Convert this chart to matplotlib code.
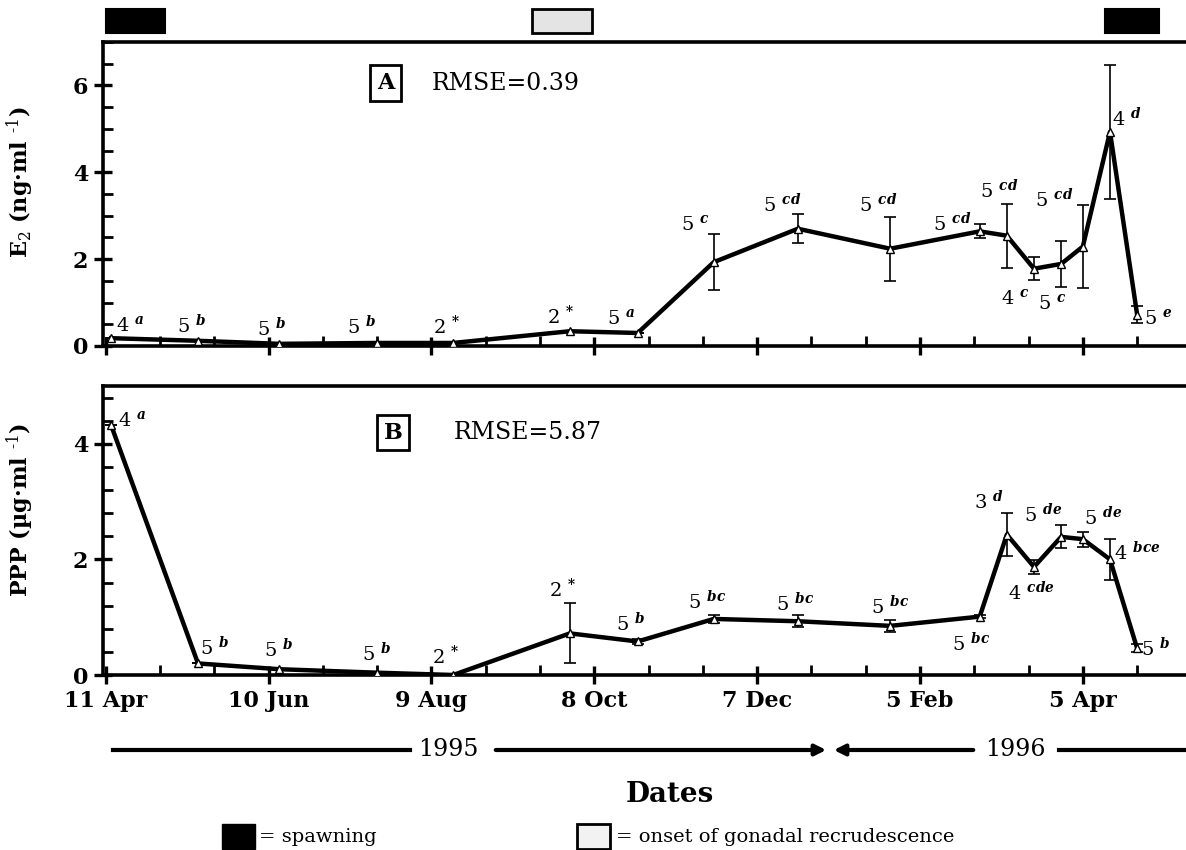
"""
Seasonal E2 and PPP levels, 1995-1996 (two stacked panels)
"""

import numpy as np
import pandas as pd
import matplotlib
matplotlib.use('Agg')
import matplotlib.pyplot as plt
import matplotlib.dates as mdates
from matplotlib.patches import Rectangle, FancyArrowPatch
from matplotlib.transforms import blended_transform_factory

plt.rcParams['font.family'] = 'DejaVu Serif'
plt.rcParams['mathtext.fontset'] = 'dejavuserif'

# Sampling dates (same for both panels)
SAMPLE_DATES = ['1995-04-13', '1995-05-15', '1995-06-14', '1995-07-20', '1995-08-17',
                '1995-09-29', '1995-10-24', '1995-11-21', '1995-12-22', '1996-01-25',
                '1996-02-27', '1996-03-08', '1996-03-18', '1996-03-28', '1996-04-05',
                '1996-04-15', '1996-04-25']

# Panel A: E2 (ng/ml)
E2_MEAN = [0.18, 0.12, 0.05, 0.07, 0.07, 0.34, 0.30, 1.93, 2.70, 2.24, 2.64, 2.54,
           1.78, 1.89, 2.29, 4.93, 0.72]
E2_SEM = [0.0, 0.0, 0.0, 0.0, 0.0, 0.0, 0.0, 0.64, 0.33, 0.74, 0.16, 0.74,
          0.27, 0.53, 0.95, 1.55, 0.20]
E2_N = ['4', '5', '5', '5', '2', '2', '5', '5', '5', '5', '5', '5', '4', '5', '5', '4', '5']
E2_GROUP = ['a', 'b', 'b', 'b', '*', '*', 'a', 'c', 'cd', 'cd', 'cd', 'cd', 'c', 'c',
            'cd', 'd', 'e']

# Panel B: PPP (ug/ml)
PPP_MEAN = [4.32, 0.20, 0.10, 0.04, 0.00, 0.72, 0.58, 0.97, 0.93, 0.85, 1.01, 2.43,
            1.87, 2.39, 2.35, 2.00, 0.46]
PPP_SEM = [0.0, 0.0, 0.0, 0.0, 0.0, 0.52, 0.05, 0.07, 0.10, 0.10, 0.02, 0.37,
           0.12, 0.20, 0.13, 0.35, 0.07]
PPP_N = ['4', '5', '5', '5', '2', '2', '5', '5', '5', '5', '5', '3', '4', '5', '5', '4', '5']
PPP_GROUP = ['a', 'b', 'b', 'b', '*', '*', 'b', 'bc', 'bc', 'bc', 'bc', 'd', 'cde',
             'de', 'de', 'bce', 'b']

RMSE_A = '0.39'
RMSE_B = '5.87'

TICK_DATES = ['1995-04-11', '1995-06-10', '1995-08-09', '1995-10-08', '1995-12-07',
              '1996-02-05', '1996-04-05']
TICK_LABELS = ['11 Apr', '10 Jun', '9 Aug', '8 Oct', '7 Dec', '5 Feb', '5 Apr']

# Reproductive events shown as bars above panel A
SPAWNING = [('1995-04-11', '1995-05-03'), ('1996-04-13', '1996-05-03')]
RECRUDESCENCE = [('1995-09-15', '1995-10-07')]

# label offsets (pixels, dx right / dy up) from each point
E2_OFFSETS = [(19, 13), (-6, 16), (-8, 16), (-15, 17), (-6, 17), (-9, 15), (-16, 15),
              (-18, 38), (-16, 25), (-12, 45), (-28, 8), (-8, 45), (-19, -29),
              (-9, -39), (-29, 47), (17, 14), (21, -3)]
PPP_OFFSETS = [(21, 5), (17, 16), (-1, 20), (0, 19), (-7, 19), (-7, 44), (-7, 18),
               (-7, 18), (-3, 18), (0, 20), (-9, -27), (-18, 33), (-3, -25),
               (-18, 23), (20, 22), (27, 7), (19, 0)]

W, H = 1186, 850
PX = 72.0 / 100  # points per pixel at dpi 100


def to_num(dates):
    return mdates.date2num(pd.to_datetime(dates))


def label_text(n, g):
    if g == '*':
        return n + r' $^{\mathbf{*}}$'
    return n + r' $^{\mathbfit{' + g + '}}$'


def draw_panel(ax, x, mean, sem, ns, groups, offsets):
    ax.errorbar(x, mean, yerr=sem, fmt='none', ecolor='black', elinewidth=1.2,
                capsize=4, capthick=1.2, zorder=2)
    ax.plot(x, mean, '-', color='black', linewidth=3.2, zorder=3)
    ax.plot(x, mean, '^', markersize=6, markerfacecolor='white',
            markeredgecolor='black', markeredgewidth=1, zorder=4)
    for xi, yi, n, g, (dx, dy) in zip(x, mean, ns, groups, offsets):
        ax.annotate(label_text(n, g), (xi, yi), xytext=(dx * PX, dy * PX),
                    textcoords='offset points', ha='center', va='center',
                    fontsize=14, zorder=5)


def style_axes(ax, ymax, major, minor, x0, x1, ticks, minor_x):
    ax.set_xlim(x0, x1)
    ax.set_ylim(0, ymax)
    ax.set_xticks(ticks)
    ax.set_xticks(minor_x, minor=True)
    ax.set_yticks(major)
    ax.set_yticks(minor, minor=True)
    ax.spines['right'].set_visible(False)
    for s in ['left', 'bottom', 'top']:
        ax.spines[s].set_linewidth(2.6)
    ax.tick_params(which='major', direction='inout', length=13, width=2.4,
                   labelsize=16, pad=4)
    ax.tick_params(which='minor', direction='in', length=7, width=2.0)
    ax.tick_params(top=False, right=False, which='both')
    for lab in ax.get_yticklabels():
        lab.set_fontweight('bold')


x = to_num(SAMPLE_DATES)
ticks = to_num(TICK_DATES)
x0 = ticks[0] - 1
x1 = ticks[0] + 398
minor_x = np.arange(ticks[0], x1, 20)

fig = plt.figure(figsize=(W / 100, H / 100), dpi=100)

# axes placed in pixel units
axA = fig.add_axes([103 / W, 1 - 346 / H, 1 - 103 / W, (346 - 42) / H])
axB = fig.add_axes([103 / W, 1 - 675 / H, 1 - 103 / W, (675 - 386) / H])

draw_panel(axA, x, E2_MEAN, E2_SEM, E2_N, E2_GROUP, E2_OFFSETS)
draw_panel(axB, x, PPP_MEAN, PPP_SEM, PPP_N, PPP_GROUP, PPP_OFFSETS)

style_axes(axA, 7, [0, 2, 4, 6], np.arange(0, 7.01, 0.5), x0, x1, ticks, minor_x)
style_axes(axB, 5, [0, 2, 4], np.arange(0, 5.01, 0.4), x0, x1, ticks, minor_x)
axA.set_xticklabels([])
axB.set_xticklabels(TICK_LABELS, fontsize=16, fontweight='bold')

# y labels
axA.set_ylabel('E$_2$ (ng\u00b7ml $^{\\text{-1}}$)', fontsize=16, fontweight='bold')
axA.yaxis.set_label_coords(-0.062, 0.54)
axB.set_ylabel('PPP (\u00b5g\u00b7ml $^{\\text{-1}}$)', fontsize=16, fontweight='bold')
axB.yaxis.set_label_coords(-0.062, 0.57)

# panel tags and RMSE
axA.text(0.261, 0.865, 'A', transform=axA.transAxes, fontsize=16, fontweight='bold',
         ha='center', va='center',
         bbox=dict(boxstyle='square,pad=0.3', facecolor='white', edgecolor='black', linewidth=2))
axA.text(0.304, 0.862, 'RMSE=' + RMSE_A, transform=axA.transAxes, fontsize=17,
         ha='left', va='center')
axB.text(0.268, 0.838, 'B', transform=axB.transAxes, fontsize=16, fontweight='bold',
         ha='center', va='center',
         bbox=dict(boxstyle='square,pad=0.3', facecolor='white', edgecolor='black', linewidth=2))
axB.text(0.324, 0.838, 'RMSE=' + RMSE_B, transform=axB.transAxes, fontsize=17,
         ha='left', va='center')

# event bars above panel A
trans = blended_transform_factory(axA.transData, axA.transAxes)
for start, end in SPAWNING:
    s, e = to_num([start, end])
    axA.add_patch(Rectangle((s, 1.03), e - s, 0.08, transform=trans, clip_on=False,
                            facecolor='black', edgecolor='black', linewidth=1.5))
for start, end in RECRUDESCENCE:
    s, e = to_num([start, end])
    axA.add_patch(Rectangle((s, 1.03), e - s, 0.08, transform=trans, clip_on=False,
                            facecolor='#e4e4e4', edgecolor='black', linewidth=2))

# year arrows
yy = 1 - 750 / H


def hline(xa, xb):
    fig.add_artist(plt.Line2D([xa / W, xb / W], [yy, yy], color='black', linewidth=3))


def harrow(xa, xb):
    fig.add_artist(FancyArrowPatch(
        (xa / W, yy), (xb / W, yy), transform=fig.transFigure, arrowstyle='-|>',
        mutation_scale=16, color='black', linewidth=3))


hline(113, 410)
harrow(493, 829)
harrow(976, 831)
hline(1059, 1184)
fig.text(448 / W, yy, '1995', fontsize=17, ha='center', va='center')
fig.text(1015 / W, yy, '1996', fontsize=17, ha='center', va='center')

fig.text(670 / W, 1 - 795 / H, 'Dates', fontsize=20, fontweight='bold',
         ha='center', va='center')

# legend at bottom
ly = 1 - 849 / H
fig.add_artist(Rectangle((222 / W, ly), 33 / W, 25 / H, transform=fig.transFigure,
                         facecolor='black', edgecolor='black'))
fig.text(259 / W, 1 - 837 / H, '= spawning', fontsize=14, ha='left', va='center')
fig.add_artist(Rectangle((577 / W, ly), 33 / W, 25 / H, transform=fig.transFigure,
                         facecolor='#f2f2f2', edgecolor='black', linewidth=2))
fig.text(616 / W, 1 - 837 / H, '= onset of gonadal recrudescence', fontsize=14,
         ha='left', va='center')

fig.savefig('out.png', dpi=100)
